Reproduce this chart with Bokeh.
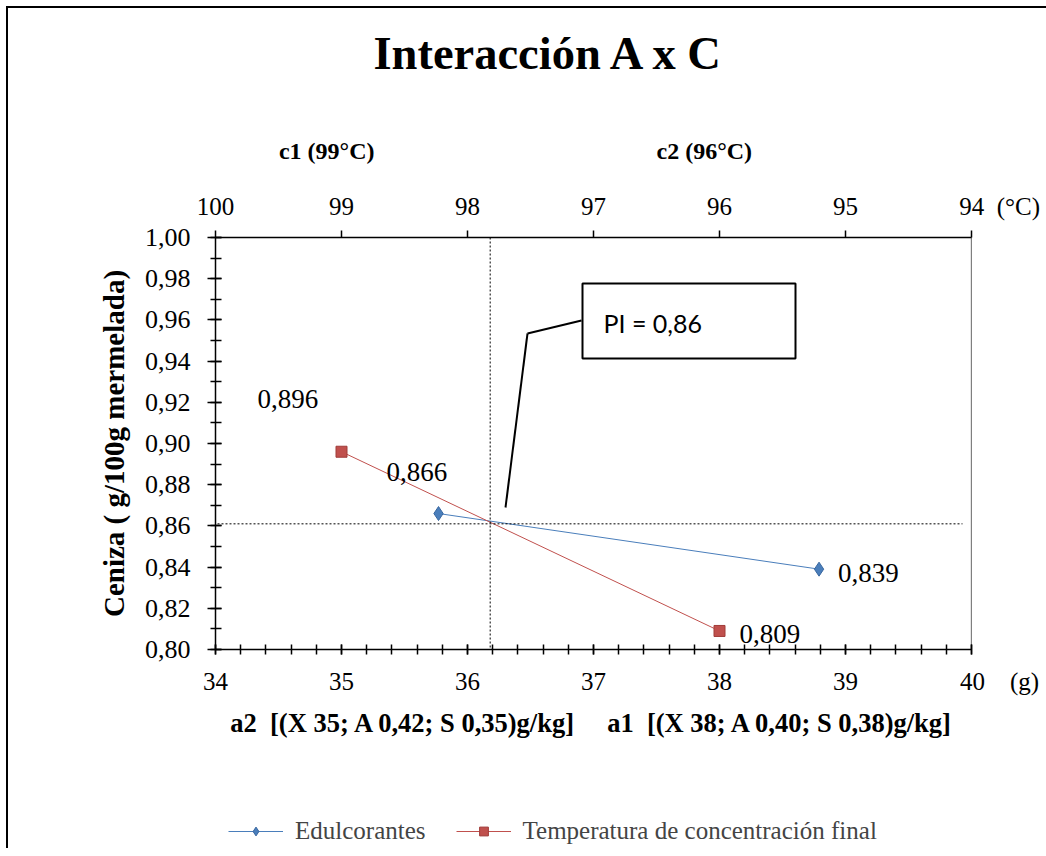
from bokeh.plotting import figure
from bokeh.layouts import column
from bokeh.models import (Range1d, LinearAxis, FixedTicker, SingleIntervalTicker,
                          CustomJSTickFormatter, Label, Arrow, Legend, LegendItem,
                          BoxAnnotation)
from bokeh.embed import file_html
from bokeh.resources import INLINE

# ---------------- data ----------------
edul_x = [35.77, 38.79]          # g (bottom axis)
edul_y = [0.866, 0.839]
edul_labels = ["0,866", "0,839"]
temp_x = [99, 96]                # degrees C (top axis)
temp_y = [0.896, 0.809]
temp_labels = ["0,896", "0,809"]
x_ticks = [34, 35, 36, 37, 38, 39, 40]
temp_ticks = [100, 99, 98, 97, 96, 95, 94]
y_ticks = [0.80, 0.82, 0.84, 0.86, 0.88, 0.90, 0.92, 0.94, 0.96, 0.98, 1.00]
y_minor = [round(0.80 + 0.01 * i, 2) for i in range(21)]
cross_x = 36.18
cross_y = 0.861
pi_text = "PI = 0,86"
title_text = "Interacción A x C"
c_labels = ["c1 (99°C)", "c2 (96°C)"]
series_names = ["Edulcorantes", "Temperatura de concentración final"]
NB = "\u00a0"
x_label = "a2" + NB * 2 + "[(X 35; A 0,42; S 0,35)g/kg]" + NB * 5 + "a1" + NB * 2 + "[(X 38; A 0,40; S 0,38)g/kg]"
top_label = c_labels[0] + NB * 47 + c_labels[1] + NB * 26
y_label = "Ceniza ( g/100g mermelada)"

SERIF = "Liberation Serif"
BLUE = "#4A7EBB"
RED = "#C0504D"

W = 1038          # content width (page starts at x = 8 after margin + border)
FRAME_W = 756

# ---------------- title strip ----------------
tf = figure(width=W, height=92, x_range=Range1d(0, 1), y_range=Range1d(0, 1),
            output_backend="svg", toolbar_location=None, min_border=0,
            x_axis_type=None, y_axis_type=None)
tf.outline_line_color = None
tf.background_fill_color = "white"
tf.border_fill_color = "white"
tf.add_layout(Label(x=158 / FRAME_W, y=47 / 92, text=title_text, text_align="left",
                    text_baseline="middle", text_font=SERIF, text_font_size="46.5px",
                    text_font_style="bold", text_color="black"))

# ---------------- main chart ----------------
p = figure(width=W, height=700,
           x_range=Range1d(34, 40), y_range=Range1d(0.80, 1.00),
           output_backend="svg", toolbar_location=None,
           min_border_left=207, min_border_right=75,
           min_border_top=137, min_border_bottom=151)
p.extra_x_ranges = {"temp": Range1d(100, 94)}
p.xgrid.visible = False
p.ygrid.visible = False
p.outline_line_color = None
p.background_fill_color = "white"
p.border_fill_color = "white"

xa = p.xaxis[0]
xa.ticker = SingleIntervalTicker(interval=1, num_minor_ticks=5)
xa.major_tick_in = 5
xa.major_tick_out = 5
xa.minor_tick_in = 5
xa.minor_tick_out = 5
xa.major_label_standoff = 13
xa.axis_label = x_label
xa.axis_label_standoff = 10
xa.axis_label_text_font_size = "26.5px"
xa.major_label_text_font_size = "25px"
xa.major_label_overrides = {40: NB * 9 + "40" + NB * 4 + "(g)"}

ya = p.yaxis[0]
ya.ticker = FixedTicker(ticks=y_ticks, minor_ticks=y_minor)
ya.formatter = CustomJSTickFormatter(code="return tick.toFixed(2).replace('.', ',');")
ya.major_tick_in = 6
ya.major_tick_out = 8
ya.minor_tick_in = 6
ya.minor_tick_out = 5
ya.major_label_standoff = 17
ya.axis_label = y_label
ya.axis_label_standoff = 12
ya.axis_label_text_font_size = "29px"
ya.major_label_text_font_size = "26px"

top = LinearAxis(x_range_name="temp", ticker=FixedTicker(ticks=temp_ticks))
top.major_tick_in = 0
top.major_tick_out = 7
top.minor_tick_line_color = None
top.major_label_standoff = 11
top.axis_label = top_label
top.axis_label_standoff = 26
top.axis_label_text_font_size = "24px"
top.major_label_text_font_size = "25px"
top.major_label_overrides = {94: NB * 9 + "94" + NB * 2 + "(°C)"}
p.add_layout(top, "above")

for ax in (xa, ya, top):
    ax.axis_line_width = 1.5
    ax.major_tick_line_width = 1.5
    ax.minor_tick_line_width = 1.5
    ax.axis_line_color = "black"
    ax.major_tick_line_color = "black"
    ax.major_label_text_font = SERIF
    ax.major_label_text_color = "black"
    ax.axis_label_text_font = SERIF
    ax.axis_label_text_font_style = "bold"
    ax.axis_label_text_color = "black"
xa.minor_tick_line_color = "black"
ya.minor_tick_line_color = "black"

# helpers for annotation placement (page px -> data)
def px_x(px):
    return 34 + (px - 215) / 126.0

def px_y(py):
    return 1.0 - (py - 237) / 2060.0

def seg(x0, y0, x1, y1, width=1, dash="solid", color="black"):
    p.add_layout(Arrow(end=None, x_start=x0, y_start=y0, x_end=x1, y_end=y1,
                       line_color=color, line_width=width, line_dash=dash))

# right edge line of plot area
seg(40, px_y(220), 40, px_y(673), width=1.2)

# dotted guide lines
seg(px_x(193), cross_y, px_x(962), cross_y, width=1, dash="2 2")
seg(cross_x, px_y(205), cross_x, px_y(670), width=1, dash="2 2")

# series
bl = p.line(edul_x, edul_y, line_color=BLUE, line_width=1)
bm = p.scatter(edul_x, edul_y, marker="diamond", size=14, fill_color=BLUE,
               line_color="#3A68A0", line_width=1)
rl = p.line(temp_x, temp_y, x_range_name="temp", line_color=RED, line_width=1)
rm = p.scatter(temp_x, temp_y, x_range_name="temp", marker="square", size=11,
               fill_color=RED, line_color="#A03C39", line_width=1)

# data labels
edul_off = [(-52, 42), (19, -4)]
temp_off = [(-84, 53), (20, -3)]
for x, y, t, (dx, dy) in zip(edul_x, edul_y, edul_labels, edul_off):
    p.add_layout(Label(x=x, y=y, text=t, x_offset=dx, y_offset=dy,
                       text_baseline="middle", text_align="left",
                       text_font=SERIF, text_font_size="27px", text_color="black"))
for x, y, t, (dx, dy) in zip(temp_x, temp_y, temp_labels, temp_off):
    p.add_layout(Label(x=x, y=y, text=t, x_offset=dx, y_offset=dy, x_range_name="temp",
                       text_baseline="middle", text_align="left",
                       text_font=SERIF, text_font_size="27px", text_color="black"))

# callout
p.add_layout(BoxAnnotation(left=px_x(582), right=px_x(795), top=px_y(283), bottom=px_y(358),
                           fill_color="white", fill_alpha=1.0, line_color="black",
                           line_alpha=1.0, line_width=2))
p.add_layout(Label(x=px_x(603), y=px_y(322), text=pi_text, text_baseline="alphabetic",
                   text_font="Lato", text_font_size="25px", text_color="black"))
seg(px_x(581), px_y(320), px_x(527), px_y(333), width=2)
seg(px_x(527), px_y(333), px_x(505), px_y(507), width=2)

# ---------------- legend strip ----------------
lf = figure(width=W, height=48, x_range=Range1d(0, 1), y_range=Range1d(0, 1),
            output_backend="svg", toolbar_location=None, min_border=0,
            x_axis_type=None, y_axis_type=None)
lf.outline_line_color = None
lf.background_fill_color = "white"
lf.border_fill_color = "white"
# legend glyph renderers (series data lie outside this strip's 0..1 ranges)
lbl = lf.line(edul_x, edul_y, line_color=BLUE, line_width=1)
lbm = lf.scatter(edul_x, edul_y, marker="diamond", size=14, fill_color=BLUE, line_color="#3A68A0")
lrl = lf.line(edul_x, temp_y, line_color=RED, line_width=1)
lrm = lf.scatter(edul_x, temp_y, marker="square", size=11, fill_color=RED, line_color="#A03C39")
legend = Legend(items=[LegendItem(label=series_names[0], renderers=[lbl, lbm]),
                       LegendItem(label=series_names[1], renderers=[lrl, lrm])],
                location=(13, 3), orientation="horizontal",
                border_line_color=None, background_fill_alpha=0,
                label_text_font=SERIF, label_text_font_size="25px",
                glyph_width=55, glyph_height=22, label_standoff=12, spacing=30,
                padding=0, margin=0)
lf.add_layout(legend)

layout = column(tf, p, lf, spacing=0,
                styles={"margin-left": "6px", "margin-top": "6px",
                        "border-left": "2px solid black", "border-top": "2px solid black"})
open("out.html", "w").write(file_html(layout, INLINE))
